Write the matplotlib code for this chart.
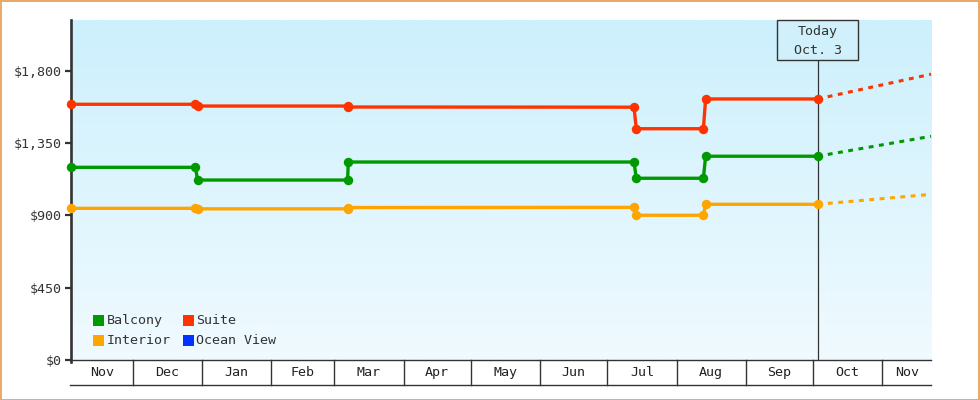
import matplotlib
matplotlib.use("Agg")
import matplotlib.pyplot as plt
import matplotlib.dates as mdates
import numpy as np
import pandas as pd
from matplotlib.patches import Rectangle
from matplotlib.transforms import blended_transform_factory

# ---------------- data ----------------
dates = ["2022-11-03 10:00", "2022-12-29 00:00", "2022-12-30 00:00", "2023-03-07 00:00",
         "2023-03-07 08:00", "2023-07-13 00:00", "2023-07-14 00:00", "2023-08-13 00:00",
         "2023-08-14 00:00", "2023-10-03 00:00"]
balcony = [1198, 1198, 1119, 1119, 1231, 1231, 1130, 1130, 1267, 1267]
suite = [1590, 1590, 1579, 1579, 1573, 1572, 1438, 1438, 1623, 1623]
interior = [943, 943, 940, 940, 948, 949, 900, 900, 968, 968]

forecast_date = "2023-11-22 17:00"
balcony_fc = 1391
suite_fc = 1777
interior_fc = 1030

today = "2023-10-03 00:00"
today_label = ["Today", "Oct. 3"]

months = ["Nov", "Dec", "Jan", "Feb", "Mar", "Apr", "May", "Jun",
          "Jul", "Aug", "Sep", "Oct", "Nov"]
yticks = [0, 450, 900, 1350, 1800]
ytick_labels = ["$0", "$450", "$900", "$1,350", "$1,800"]

legend_labels = ["Balcony", "Suite", "Interior", "Ocean View"]
legend_colors = ["#009900", "#FF3300", "#FFA500", "#0033FF"]

# ---------------- style ----------------
FONT = "DejaVu Sans Mono"
TXT = "#333333"
plt.rcParams["font.family"] = [FONT]
FS = 9.6

fig = plt.figure(figsize=(9.8, 4.0), dpi=100)
fig.patch.set_facecolor("white")
ax = fig.add_axes([71 / 980, 40 / 400, 860 / 980, 340 / 400])
ax.set_facecolor("none")

x0 = mdates.date2num(pd.Timestamp(dates[0]))
x1 = mdates.date2num(pd.Timestamp(forecast_date))
ax.set_xlim(x0, x1)
ax.set_ylim(0, 2114)

# gradient background
grad = np.linspace(0, 1, 256).reshape(-1, 1)
top = np.array([204, 240, 252]) / 255
bot = np.array([240, 250, 255]) / 255
img = top[None, None, :] * (1 - grad[:, :, None]) + bot[None, None, :] * grad[:, :, None]
ax.imshow(img, extent=[0, 1, 0, 1], transform=ax.transAxes, aspect="auto",
          zorder=0, interpolation="bilinear")

dnum = mdates.date2num(pd.to_datetime(dates, format="%Y-%m-%d %H:%M"))
fnum = mdates.date2num(pd.Timestamp(forecast_date))
tnum = mdates.date2num(pd.Timestamp(today))

series = [(balcony, balcony_fc, legend_colors[0]),
          (suite, suite_fc, legend_colors[1]),
          (interior, interior_fc, legend_colors[2])]

# today line
blend = blended_transform_factory(ax.transData, ax.transAxes)
box_h = 40 / 340
ax.plot([tnum, tnum], [0, 1 - box_h], transform=blend, color=TXT, lw=0.9,
        zorder=2)

for vals, fc, col in series:
    ax.plot([dnum[-1], fnum], [vals[-1], fc], color=col, lw=2.2,
            linestyle=(0, (1.6, 1.8)), zorder=3, clip_on=False,
            solid_capstyle="butt", dash_capstyle="butt")
    ax.plot(dnum, vals, color=col, lw=2.4, marker="o", markersize=6.8,
            markeredgewidth=0, zorder=4, clip_on=False)

# today box
px_per_day = 860 / (x1 - x0)
box_w = 81 / px_per_day
ax.add_patch(Rectangle((tnum - box_w / 2, 1 - box_h), box_w, box_h,
                       transform=blend, facecolor="#D0F1FC", edgecolor=TXT,
                       lw=1.0, zorder=5, clip_on=False))
ax.text(tnum, (360 - 32) / 340, today_label[0], transform=blend, ha="center",
        va="center", fontsize=FS, color=TXT, zorder=6)
ax.text(tnum, (360 - 50) / 340, today_label[1], transform=blend, ha="center",
        va="center", fontsize=FS, color=TXT, zorder=6)

# spines / y ticks
for s in ["top", "right"]:
    ax.spines[s].set_visible(False)
ax.spines["left"].set_color(TXT)
ax.spines["left"].set_linewidth(1.9)
ax.spines["left"].set_bounds(-1.5 * 2114 / 340, 2114)
ax.spines["bottom"].set_color(TXT)
ax.spines["bottom"].set_linewidth(1.0)
ax.set_yticks(yticks)
ax.set_yticklabels(ytick_labels, fontsize=FS, color=TXT, family=FONT)
ax.tick_params(axis="y", length=4, width=1.6, color=TXT, pad=3)
ax.set_xticks([])

# month strip
strip_h = 25 / 340
bounds = [x0] + list(mdates.date2num(pd.date_range("2022-12-01", "2023-11-01",
                                                   freq="MS"))) + [x1]
ax.plot([x0 - 1 / px_per_day, x1], [-strip_h, -strip_h], transform=blend,
        color=TXT, lw=1.0, clip_on=False)
for b in bounds[1:-1]:
    ax.plot([b, b], [0, -strip_h], transform=blend, color=TXT, lw=1.0,
            clip_on=False)
for i, m in enumerate(months):
    cx = (bounds[i] + bounds[i + 1]) / 2
    ax.text(cx, -strip_h / 2, m, transform=blend, ha="center", va="center",
            fontsize=FS, color="#222222")

# legend (manual)
sq_w, sq_h = 11 / 860, 11 / 340
leg_x = [(93 - 71) / 860, (183 - 71) / 860]
leg_y = [(360 - 320.5) / 340, (360 - 340.5) / 340]
for i, (lab, col) in enumerate(zip(legend_labels, legend_colors)):
    c, r = i % 2, i // 2
    ax.add_patch(Rectangle((leg_x[c], leg_y[r] - sq_h / 2), sq_w, sq_h,
                           transform=ax.transAxes, facecolor=col,
                           edgecolor="none", zorder=6))
    ax.text(leg_x[c] + 13.5 / 860, leg_y[r], lab, transform=ax.transAxes,
            ha="left", va="center", fontsize=FS, color=TXT, zorder=6)

# outer border
fig.patches.append(Rectangle((0.5 / 980, 0.5 / 400), 978.5 / 980, 398.5 / 400,
                             transform=fig.transFigure, fill=False,
                             edgecolor="#E8A864", lw=1.4))

fig.savefig("out.png", dpi=100)
